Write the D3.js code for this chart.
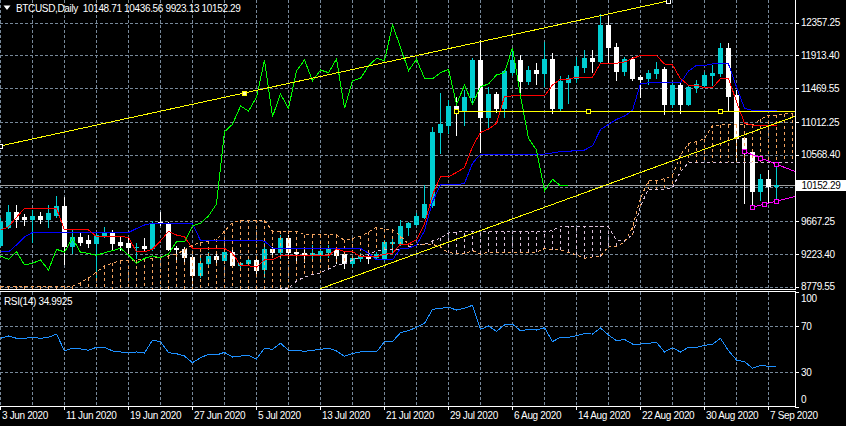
<!DOCTYPE html>
<html><head><meta charset="utf-8">
<script src="https://cdn.jsdelivr.net/npm/d3@7"></script>
<style>
html,body{margin:0;padding:0;background:#000;overflow:hidden}
svg{display:block}
text{font-family:"Liberation Sans",Arial,sans-serif;font-size:10px;letter-spacing:-0.35px}
</style></head><body>
<svg id="c" width="846" height="426"></svg>
<script>
// ---------------- DATA ----------------
const startDate = "2020-06-03";
const symbolTitle = "BTCUSD,Daily  10148.71 10436.56 9923.13 10152.29";
const rsiTitle = "RSI(14) 34.9925";
const lastPrice = 10152.29;

const opens = [9345,9585,9796,9728,9701,9738,9701,9751,9873,9331,
 9457,9412,9368,9480,9511,9389,9368,9313,9331,9300,
 9656,9639,9304,9286,9186,8938,9105,9196,9141,9254,
 9070,9097,9141,9015,9286,9254,9435,9254,9240,9213,
 9223,9254,9277,9223,9097,9164,9186,9186,9164,9376,
 9376,9593,9629,9728,9887,10880,10971,11228,11161,11346,
 11852,11083,11391,11205,11693,11852,11567,11716,11680,11865,
 11197,11558,11604,11761,11875,11842,12326,12024,11707,11861,
 11626,11604,11672,11726,11251,11513,11251,11482,11513,11649,
 11672,12019,11377,10791,10609,10080,10235,10148.71];
const highs = [9710,9887,9887,9765,9819,9796,9887,10009,9991,9548,
 9503,9480,9503,9593,9548,9457,9457,9368,9435,9674,
 9796,9660,9331,9322,9209,9186,9254,9254,9286,9277,
 9118,9164,9164,9368,9322,9480,9480,9300,9277,9345,
 9300,9345,9313,9254,9196,9232,9209,9254,9412,9435,
 9684,9650,9774,10158,10948,11400,11310,11354,11445,11875,
 12123,11482,11422,11716,12010,11919,11770,11815,12100,11951,
 11635,11649,11897,11987,11987,12475,12448,12078,11897,11897,
 11649,11716,11829,11761,11536,11544,11513,11581,11693,11784,
 12078,12078,11445,10808,10632,10307,10361,10436.56];
const lows = [9330,9575,9585,9620,9389,9647,9585,9728,9087,9232,
 9345,9322,8907,9457,9277,9277,9232,9164,9277,9277,
 9616,9277,9118,9118,8803,8915,9042,9118,9105,9051,
 9051,9074,8961,8915,9186,9164,9164,9118,9118,9164,
 9164,9186,9105,9029,9060,9132,9097,9164,9141,9254,
 9345,9480,9616,9706,9864,10587,10858,10835,10971,11287,
 10609,10926,11151,11083,11649,11401,11527,11527,11500,11138,
 11174,11273,11558,11693,11693,11807,11829,11581,11649,11581,
 11346,11527,11604,11120,11219,11129,11242,11422,11482,11513,
 11639,11174,10497,9918,9860,9955,9910,9923.13];
const closes = [9660,9796,9693,9701,9738,9701,9774,9873,9331,9457,
 9389,9368,9480,9511,9368,9345,9313,9323,9300,9639,
 9639,9286,9286,9186,8938,9105,9196,9151,9254,9074,
 9097,9141,9006,9286,9250,9435,9246,9232,9205,9240,
 9267,9300,9209,9097,9164,9196,9173,9223,9389,9389,
 9602,9639,9738,9900,10880,10980,11228,11161,11346,11852,
 11083,11391,11197,11703,11852,11571,11716,11680,11865,11197,
 11571,11604,11770,11875,11842,12326,12024,11707,11861,11604,
 11598,11680,11726,11251,11513,11251,11490,11527,11649,11680,
 12019,11364,10791,10632,10080,10235,10148,10152.29];

// Ichimoku
const tenkan = [9547,9590,9720,9842,9842,9842,9842,9842,9548,9548,
 9548,9548,9458,9458,9458,9458,9449,9250,9250,9290,
 9400,9530,9480,9457,9300,9300,9300,9300,9300,9232,
 9067,9063,9045,9142,9142,9198,9198,9198,9198,9198,
 9198,9198,9293,9255,9255,9187,9187,9187,9221,9232,
 9357,9357,9417,9628,10023,10271,10271,10327,10395,10678,
 10870,10915,10994,11355,11366,11366,11366,11366,11366,11513,
 11592,11592,11619,11619,11619,11807,11807,11807,11825,11874,
 11911,11911,11911,11798,11784,11599,11509,11509,11475,11475,
 11599,11599,11288,10998,10969,10969,10969,10969];
const kijun = [9250,9250,9345,9453,9514,9514,9514,9514,9514,9514,
 9514,9514,9514,9514,9514,9514,9514,9568,9616,9639,
 9639,9639,9639,9639,9630,9406,9406,9406,9406,9406,
 9406,9406,9406,9397,9300,9300,9300,9300,9300,9300,
 9300,9300,9300,9300,9300,9300,9232,9142,9142,9142,
 9300,9300,9345,9537,9932,10158,10158,10158,10180,10452,
 10576,10576,10576,10576,10576,10576,10576,10576,10576,10592,
 10610,10610,10632,10632,10689,10910,10978,11046,11091,11170,
 11531,11542,11542,11542,11542,11542,11701,11779,11779,11798,
 11798,11798,11486,11197,11168,11168,11168,11168];
const spanA = [8785,8785,8785,8785,8785,8785,8785,8785,8785,8785,
 8830,8898,8979,9060,9101,9128,9135,9141,9155,9169,
 9182,9196,9223,9277,9345,9372,9398,9420,9532,9648,
 9678,9678,9678,9678,9531,9531,9531,9531,9486,9486,
 9486,9486,9482,9409,9433,9465,9520,9585,9560,9548,
 9470,9353,9353,9353,9353,9319,9237,9235,9226,9270,
 9221,9249,9249,9249,9249,9249,9249,9249,9297,9278,
 9278,9244,9210,9165,9182,9187,9329,9329,9381,9583,
 9978,10215,10215,10243,10288,10565,10723,10746,10785,10966,
 10971,10971,10971,10971,10971,11053,11101,11101,11126,11126];
const spanB = [8500,8500,8500,8500,8500,8500,8500,8500,8500,8500,
 8500,8500,8500,8500,8500,8500,8500,8500,8500,8500,
 8500,8500,8500,8500,8500,8500,8500,8500,8500,8500,
 8560,8620,8660,8700,8730,8750,8762,8857,8911,8945,
 8966,9020,9067,9087,9141,9182,9223,9263,9277,9277,
 9284,9322,9338,9352,9399,9440,9507,9521,9521,9521,
 9521,9521,9521,9521,9521,9521,9521,9521,9521,9540,
 9602,9602,9602,9602,9602,9602,9589,9406,9406,9480,
 9876,10102,10102,10102,10124,10339,10463,10463,10463,10463,
 10463,10463,10463,10463,10463,10463,10463,10463,10463,10463];
const chikouShift = 26;

const rsi = [59.3,61.3,59.3,59.3,60.2,59.3,60.2,63.0,48.3,50.6,
 50.0,48.9,51.5,51.5,48.3,47.4,46.5,47.4,46.5,57.8,
 56.4,46.8,45.9,43.9,38.1,42.4,45.4,44.8,47.1,43.0,
 43.9,44.5,41.3,50.6,49.7,55.0,48.9,48.9,48.0,48.9,
 49.7,50.6,48.3,43.6,46.2,47.4,47.4,47.4,56.4,56.4,
 64.2,65.9,68.9,72.3,84.5,85.4,86.3,83.9,85.4,88.0,
 67.1,70.0,65.4,70.9,71.7,65.9,67.1,66.5,68.5,56.4,
 60.2,60.2,61.6,63.3,63.0,68.3,62.2,57.2,58.4,54.3,
 54.3,55.0,55.8,47.4,51.1,47.4,51.5,51.5,53.2,54.1,
 59.3,48.5,40.4,39.0,33.2,35.8,35.0,34.99];

const priceTicks = [8779.55, 9223.40, 9667.25, 10568.40, 11012.25, 11469.55, 11913.40, 12357.25];
const hiddenPriceGrid = [10124.00];
const rsiTicks = [0, 30, 70, 100];
const dateTickLabels = ["3 Jun 2020","11 Jun 2020","19 Jun 2020","27 Jun 2020","5 Jul 2020","13 Jul 2020",
 "21 Jul 2020","29 Jul 2020","6 Aug 2020","14 Aug 2020","22 Aug 2020","30 Aug 2020","7 Sep 2020"];

// drawn objects: [bar index, price]
const trendUpper = [[0, 10686], [83.5, 12651]];
const trendUpperMid = [30.5];
const trendLower = [[40, 8751], [97, 10994]];
const levelLine = [[57, 11156], [90, 11156]];
const magUpper = [[93, 10612], [97, 10442]];
const magLower = [[94, 9856], [97, 9937]];

// ---------------- LAYOUT ----------------
const plotR = 795, mainBot = 289, rsiTop = 291, rsiBot = 406;
const svg = d3.select("#c");
svg.append("rect").attr("width",846).attr("height",426).attr("fill","#000");
const defs = svg.append("defs");
defs.append("clipPath").attr("id","clipMain").append("rect").attr("x",0).attr("y",0).attr("width",plotR).attr("height",mainBot);
defs.append("clipPath").attr("id","clipRsi").append("rect").attr("x",0).attr("y",rsiTop+1).attr("width",plotR).attr("height",rsiBot-rsiTop-1);

const parseDay = d3.utcParse("%Y-%m-%d");
const day0 = parseDay(startDate);
const dates = opens.map((_, i) => d3.utcDay.offset(day0, i));
const x = d3.scaleUtc().domain([day0, d3.utcDay.offset(day0, 1)]).range([0, 8]);
const xAt = i => x(new Date(+day0 + i * 864e5));
const y = d3.scaleLinear().domain([8779.55, 12357.25]).range([286.7, 22.7]);
const yr = d3.scaleLinear().domain([0, 100]).range([406.5, 291.5]);
const px = v => Math.round(v) + 0.5;

const gridCol = "#778899";
const grid = svg.append("g").attr("stroke", gridCol).attr("stroke-dasharray","3,2").attr("shape-rendering","crispEdges");
// vertical grid every 4 days
const vgrid = d3.utcDay.every(4).range ? d3.range(0, 100, 4).map(i => xAt(i)).filter(v => v < plotR) : [];
vgrid.forEach(v => {
  grid.append("line").attr("x1",px(v)).attr("x2",px(v)).attr("y1",0).attr("y2",mainBot);
  grid.append("line").attr("x1",px(v)).attr("x2",px(v)).attr("y1",rsiTop+1).attr("y2",rsiBot);
});
priceTicks.concat(hiddenPriceGrid).forEach(p => {
  grid.append("line").attr("x1",0).attr("x2",plotR).attr("y1",px(y(p))).attr("y2",px(y(p)));
});
[30, 70].forEach(v => grid.append("line").attr("x1",0).attr("x2",plotR).attr("y1",px(yr(v))).attr("y2",px(yr(v))));

// current price line
svg.append("line").attr("x1",0).attr("x2",plotR).attr("y1",px(y(lastPrice))).attr("y2",px(y(lastPrice)))
  .attr("stroke","#a0a0a0").attr("shape-rendering","crispEdges");

// ---------------- CANDLES ----------------
const bullCol = "#00CED1", bearCol = "#FFFFFF";
const candles = opens.map((o, i) => ({o, h: highs[i], l: lows[i], c: closes[i], d: dates[i]}));
const cg = svg.append("g").attr("clip-path","url(#clipMain)").attr("shape-rendering","crispEdges");
const cj = cg.selectAll("g.k").data(candles).join("g").attr("class","k");
cj.append("rect")
  .attr("x", d => Math.round(x(d.d)))
  .attr("y", d => Math.round(y(d.h)))
  .attr("width", 1)
  .attr("height", d => Math.max(1, Math.round(y(d.l)) - Math.round(y(d.h)) + 1))
  .attr("fill", d => d.c >= d.o ? bullCol : bearCol);
cj.append("rect")
  .attr("x", d => Math.round(x(d.d)) - 2)
  .attr("y", d => Math.round(y(Math.max(d.o, d.c))))
  .attr("width", 5)
  .attr("height", d => Math.max(1, Math.round(y(Math.min(d.o, d.c))) - Math.round(y(Math.max(d.o, d.c))) + 1))
  .attr("fill", d => d.c >= d.o ? bullCol : bearCol);

// ---------------- ICHIMOKU ----------------
const sandy = "#F4A460", thistle = "#D8BFD8";
const ig = svg.append("g").attr("clip-path","url(#clipMain)").attr("shape-rendering","crispEdges").attr("fill","none");
const cloud = spanA.map((a, j) => ({j, a, b: spanB[j]})).filter(d => xAt(d.j) < plotR);
ig.selectAll("line.cl").data(cloud).join("line").attr("class","cl")
  .attr("x1", d => px(xAt(d.j))).attr("x2", d => px(xAt(d.j)))
  .attr("y1", d => y(d.a)).attr("y2", d => y(d.b))
  .attr("stroke", d => d.a >= d.b ? sandy : thistle)
  .attr("stroke-dasharray","3,3");
const lineIdx = (arr, shift = 0) => d3.line().x((d, i) => px(xAt(i))).y(d => y(d));
ig.append("path").attr("d", lineIdx()(cloud.map(d => d.b))).attr("stroke", thistle).attr("stroke-dasharray","3,3");
ig.append("path").attr("d", lineIdx()(cloud.map(d => d.a))).attr("stroke", sandy).attr("stroke-dasharray","3,3");
ig.append("path").attr("d", lineIdx()(kijun)).attr("stroke", "#0000FF");
ig.append("path").attr("d", lineIdx()(tenkan)).attr("stroke", "#FF0000");
const chikou = closes.slice(chikouShift);
ig.append("path").attr("d", lineIdx()(chikou)).attr("stroke", "#00FF00");

// ---------------- DRAWN OBJECTS ----------------
const og = svg.append("g").attr("clip-path","url(#clipMain)").attr("shape-rendering","crispEdges");
function seg(p1, p2, col, ray) {
  let x1 = xAt(p1[0]), y1 = y(p1[1]), x2 = xAt(p2[0]), y2 = y(p2[1]);
  if (ray) { const s = (y2 - y1) / (x2 - x1); y2 = y2 + s * (plotR - x2); x2 = plotR; }
  og.append("line").attr("x1", x1).attr("y1", y1).attr("x2", x2).attr("y2", y2).attr("stroke", col);
}
function sq(i, p, col, fill) {
  og.append("rect").attr("x", Math.round(xAt(i)) - 2).attr("y", Math.round(y(p)) - 2)
    .attr("width", 4).attr("height", 4).attr("fill", fill || "#000").attr("stroke", col);
}
const lerp = (a, b, i) => a[1] + (b[1] - a[1]) * (i - a[0]) / (b[0] - a[0]);
seg(trendUpper[0], trendUpper[1], "#FFFF00", false);
seg(trendLower[0], trendLower[1], "#FFFF00", true);
seg(levelLine[0], levelLine[1], "#FFFF00", true);
seg(magUpper[0], magUpper[1], "#FF00FF", true);
seg(magLower[0], magLower[1], "#FF00FF", true);
sq(trendUpper[0][0], trendUpper[0][1], "#FFFFFF");
sq(trendUpper[1][0], trendUpper[1][1], "#FFFFFF");
sq(trendUpperMid[0], lerp(trendUpper[0], trendUpper[1], trendUpperMid[0]), "#FFFF00", "#FFFFB0");
[levelLine[0][0], (levelLine[0][0] + levelLine[1][0]) / 2, levelLine[1][0]].forEach(i => sq(i, levelLine[0][1], "#FFFF00"));
[magUpper[0][0], (magUpper[0][0] + magUpper[1][0]) / 2, magUpper[1][0]].forEach(i => sq(i, lerp(magUpper[0], magUpper[1], i), "#FF00FF"));
[magLower[0][0], (magLower[0][0] + magLower[1][0]) / 2, magLower[1][0]].forEach(i => sq(i, lerp(magLower[0], magLower[1], i), "#FF00FF"));

// ---------------- RSI ----------------
svg.append("g").attr("clip-path","url(#clipRsi)").append("path")
  .attr("d", d3.line().x((d, i) => px(xAt(i))).y(d => yr(d))(rsi))
  .attr("fill","none").attr("stroke","#1E90FF").attr("shape-rendering","crispEdges");

// ---------------- FRAMES & AXES ----------------
const fr = svg.append("g").attr("stroke","#FFFFFF").attr("shape-rendering","crispEdges");
fr.append("line").attr("x1",0).attr("x2",plotR+0.5).attr("y1",mainBot+0.5).attr("y2",mainBot+0.5);
fr.append("line").attr("x1",0).attr("x2",plotR+0.5).attr("y1",rsiTop+0.5).attr("y2",rsiTop+0.5);
fr.append("line").attr("x1",0).attr("x2",plotR+0.5).attr("y1",rsiBot+0.5).attr("y2",rsiBot+0.5);
fr.append("line").attr("x1",plotR+0.5).attr("x2",plotR+0.5).attr("y1",0).attr("y2",mainBot+0.5);
fr.append("line").attr("x1",plotR+0.5).attr("x2",plotR+0.5).attr("y1",rsiTop+0.5).attr("y2",rsiBot+0.5);

function styleAxis(g) {
  g.select(".domain").remove();
  g.selectAll(".tick line").attr("stroke","#FFFFFF").attr("shape-rendering","crispEdges");
  g.selectAll(".tick text").attr("fill","#FFFFFF");
}
svg.append("g").attr("transform",`translate(${plotR},0)`)
  .call(d3.axisRight(y).tickValues(priceTicks).tickFormat(d3.format(".2f")).tickSize(4).tickPadding(2))
  .call(styleAxis);
svg.append("g").attr("transform",`translate(${plotR},0)`)
  .call(d3.axisRight(yr).tickValues(rsiTicks).tickFormat(d3.format("d")).tickSize(4).tickPadding(2))
  .call(styleAxis)
  .call(g => g.selectAll(".tick text").attr("dy", d => d === 100 ? "0.95em" : d === 0 ? "-0.4em" : "0.32em"));
const parseLbl = d3.utcParse("%d %b %Y");
const tickDates = dateTickLabels.map(parseLbl);
svg.append("g").attr("transform",`translate(0,${rsiBot})`)
  .call(d3.axisBottom(x).tickValues(tickDates).tickFormat((d, i) => dateTickLabels[i]).tickSize(4).tickPadding(2))
  .call(styleAxis)
  .call(g => g.selectAll(".tick text").attr("text-anchor","start").attr("x", 1.5));

// current price label
svg.append("rect").attr("x",plotR+1).attr("y",Math.round(y(lastPrice))-5).attr("width",846-plotR-1).attr("height",11).attr("fill","#FFFFFF");
svg.append("text").attr("x",plotR+6.5).attr("y",Math.round(y(lastPrice))+4).attr("fill","#000").text(d3.format(".2f")(lastPrice));

// titles
svg.append("path").attr("d","M3.5,5.5 L10.5,5.5 L7,10 Z").attr("fill","#FFFFFF");
svg.append("text").attr("x",16).attr("y",11.5).attr("fill","#FFFFFF").text(symbolTitle).style("white-space","pre").attr("xml:space","preserve");
svg.append("text").attr("x",4).attr("y",304.5).attr("fill","#FFFFFF").text(rsiTitle);
</script>
</body></html>
